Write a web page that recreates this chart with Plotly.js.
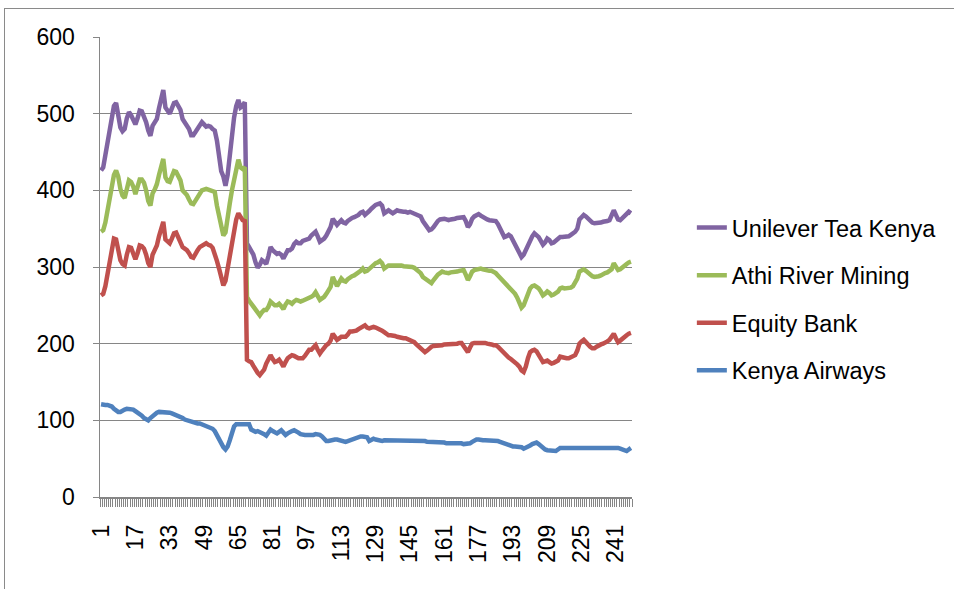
<!DOCTYPE html>
<html>
<head>
<meta charset="utf-8">
<script src="https://cdn.plot.ly/plotly-3.0.1.min.js"></script>
<style>
  html, body { margin: 0; padding: 0; background: #ffffff; }
  #chart { width: 954px; height: 589px; }
  #frame { position: absolute; left: 4px; top: 8px; width: 1000px; height: 700px; border: 1px solid #8a8a8a; pointer-events: none; }
</style>
</head>
<body>
<div id="chart"></div>
<div id="frame"></div>
<script>
const seriesNames = ["Unilever Tea Kenya", "Athi River Mining", "Equity Bank", "Kenya Airways"];
const seriesColors = ["#8064A2", "#9BBB59", "#C0504D", "#4F81BD"];

const unilever = [
  426, 430, 446, 463, 480, 496, 510, 514, 497, 482,
  477, 480, 494, 502, 498, 493, 486, 494, 504, 503,
  497, 489, 478, 471, 484, 488, 493, 507, 522, 531,
  508, 503, 500, 507, 514, 515, 510, 505, 493, 489,
  485, 480, 472, 472, 476, 480, 485, 489, 486, 483,
  484, 483, 480, 478, 465, 440, 425, 418, 406, 420,
  450, 474, 495, 510, 518, 508, 510, 515, 331, 326,
  321, 316, 306, 299, 303, 309, 307, 304, 314, 326,
  322, 320, 317, 318, 316, 311, 318, 322, 322, 324,
  330, 333, 331, 331, 334, 335, 336, 337, 341, 343,
  346, 340, 333, 335, 337, 341, 346, 352, 363, 358,
  355, 358, 361, 358, 357, 360, 363, 364, 365, 366,
  368, 371, 372, 368, 370, 373, 376, 379, 381, 382,
  383, 380, 370, 372, 374, 372, 370, 372, 374, 373,
  372, 372, 372, 371, 372, 371, 370, 369, 368, 366,
  360, 355, 352, 348, 349, 352, 357, 360, 362, 363,
  363, 362, 361, 362, 362, 363, 364, 364, 365, 365,
  360, 352, 356, 363, 366, 368, 369, 367, 365, 364,
  362, 361, 361, 361, 360, 356, 350, 345, 339, 340,
  342, 340, 335, 330, 325, 319, 313, 316, 322, 330,
  337, 340, 344, 342, 339, 334, 329, 332, 337, 335,
  331, 332, 334, 336, 339, 339, 339, 339, 340, 342,
  344, 346, 350, 362, 365, 368, 366, 363, 360, 358,
  357, 357, 357, 358, 359, 359, 360, 361, 366, 374,
  368, 362, 361, 364, 368, 369, 372, 370
];

const athi = [
  346, 348, 358, 375, 392, 405, 420, 426, 418, 402,
  393, 390, 402, 413, 411, 405, 395, 403, 414, 414,
  410, 400, 386, 380, 396, 401, 408, 420, 434, 441,
  417, 412, 411, 418, 425, 424, 418, 413, 400, 397,
  394, 388, 383, 382, 386, 391, 396, 400, 401, 402,
  401, 400, 400, 398, 380, 366, 352, 341, 345, 370,
  383, 400, 415, 430, 440, 430, 428, 430, 261, 256,
  252, 248, 244, 239, 237, 241, 244, 244, 248, 255,
  252, 250, 250, 252, 249, 245, 251, 255, 254, 252,
  255, 257, 256, 255, 256, 257, 258, 260, 261, 263,
  267, 262, 257, 259, 261, 265, 270, 274, 287, 280,
  275, 280, 285, 282, 281, 284, 287, 288, 289, 291,
  292, 295, 298, 294, 295, 298, 300, 302, 305, 306,
  308, 305, 298, 300, 302, 302, 302, 302, 303, 303,
  302, 301, 301, 300, 300, 300, 299, 297, 295, 292,
  287, 285, 283, 280, 279, 283, 287, 290, 292, 294,
  293, 292, 292, 293, 293, 294, 294, 295, 296, 296,
  290, 283, 288, 294, 296, 297, 298, 298, 297, 296,
  296, 295, 295, 294, 292, 289, 286, 282, 279, 277,
  275, 272, 268, 265, 260, 254, 247, 250, 258, 266,
  272, 275, 276, 274, 272, 268, 263, 265, 268, 266,
  263, 264, 266, 268, 272, 273, 272, 272, 272, 273,
  275, 279, 285, 294, 296, 297, 295, 292, 290, 288,
  287, 287, 288, 289, 291, 292, 293, 295, 297, 305,
  300, 296, 297, 300, 302, 304, 306, 307
];

const equity = [
  263, 265, 275, 292, 305, 322, 337, 336, 322, 309,
  304, 302, 316, 326, 325, 318, 310, 318, 328, 327,
  324, 316, 305, 300, 316, 322, 328, 340, 352, 359,
  336, 333, 331, 337, 344, 345, 338, 333, 326, 324,
  322, 318, 313, 312, 318, 322, 326, 328, 330, 331,
  329, 328, 325, 318, 308, 298, 287, 276, 282, 298,
  315, 333, 348, 362, 370, 365, 361, 360, 179, 177,
  176, 171, 166, 162, 159, 163, 166, 174, 180, 185,
  180, 176, 177, 179, 175, 170, 176, 181, 183, 185,
  184, 182, 181, 181, 181, 184, 188, 192, 192, 195,
  198, 192, 187, 191, 196, 198, 200, 204, 213, 208,
  205, 207, 209, 209, 209, 212, 216, 216, 216, 217,
  219, 221, 223, 224, 221, 220, 221, 222, 221, 220,
  219, 217, 215, 212, 211, 211, 211, 210, 209, 208,
  208, 207, 207, 206, 205, 204, 202, 199, 196, 193,
  190, 189, 191, 194, 196, 197, 197, 198, 198, 198,
  199, 199, 199, 199, 200, 200, 200, 201, 201, 197,
  192, 189, 195, 200, 201, 201, 202, 202, 201, 201,
  200, 200, 199, 198, 198, 196, 193, 189, 186, 184,
  182, 180, 178, 176, 173, 170, 165, 163, 170, 181,
  189, 191, 192, 190, 185, 180, 176, 177, 178, 176,
  174, 175, 176, 178, 183, 182, 181, 181, 181, 182,
  183, 185, 191, 200, 203, 205, 202, 198, 196, 194,
  194, 196, 198, 199, 200, 201, 203, 205, 208, 213,
  207, 202, 204, 207, 209, 211, 213, 214
];

const kenyaAirways = [
  121, 120, 120, 120, 119, 118, 115, 112, 111, 111,
  113, 114, 115, 115, 115, 114, 112, 110, 109, 106,
  103, 101, 100, 103, 106, 108, 110, 111, 111, 111,
  111, 110, 110, 109, 108, 106, 105, 104, 103, 101,
  100, 99, 98, 98, 97, 96, 96, 95, 94, 92,
  91, 90, 89, 86, 80, 75, 70, 65, 62, 66,
  74, 84, 92, 95, 95, 96, 96, 96, 96, 95,
  88, 86, 85, 86, 85, 84, 82, 80, 85, 88,
  86, 84, 83, 85, 87, 84, 81, 83, 85, 86,
  87, 86, 84, 82, 81, 81, 81, 81, 80, 81,
  82, 82, 81, 79, 76, 73, 73, 74, 75, 75,
  75, 74, 74, 73, 72, 73, 74, 76, 77, 78,
  78, 79, 79, 79, 78, 73, 75, 76, 75, 74,
  73, 73, 74, 74, 74, 74, 74, 74, 74, 74,
  74, 74, 74, 74, 74, 74, 74, 74, 74, 73,
  73, 73, 72, 72, 72, 71, 71, 71, 72, 72,
  71, 70, 70, 70, 70, 71, 70, 70, 70, 69,
  69, 69, 70, 72, 74, 75, 75, 74, 74, 74,
  74, 74, 74, 74, 74, 73, 72, 71, 70, 68,
  67, 66, 66, 66, 66, 66, 65, 63, 64, 65,
  67, 69, 70, 71, 69, 66, 63, 62, 61, 61,
  61, 60, 60, 62, 64, 64, 64, 64, 64, 64,
  64, 65, 65, 65, 65, 65, 65, 65, 65, 65,
  65, 64, 64, 64, 65, 65, 64, 64, 64, 64,
  64, 64, 63, 62, 61, 60, 62, 64
];

const allSeries = [unilever, athi, equity, kenyaAirways];
const categories = unilever.map((_, i) => i + 1);
const xTickValues = categories.filter(c => (c - 1) % 16 === 0);
const xTickLabels = xTickValues.map(String);
const yTickValues = [0, 100, 200, 300, 400, 500, 600];

const FONT = "'Liberation Sans', Arial, sans-serif";
const AXIS_GRAY = "#868686";

const traces = allSeries.map((vals, k) => ({
  type: "scatter",
  mode: "lines",
  name: seriesNames[k],
  legendgroup: "g" + k,
  x: categories,
  y: vals,
  line: { color: seriesColors[k], width: 4.5, shape: "linear" },
  hoverinfo: "x+y+name"
}));

const layout = {
  width: 954,
  height: 589,
  margin: { l: 100, r: 322, t: 37, b: 92, pad: 0 },
  paper_bgcolor: "#ffffff",
  plot_bgcolor: "#ffffff",
  font: { family: FONT, size: 23, color: "#000000" },
  showlegend: true,
  legend: {
    x: 1.1125, xanchor: "left",
    y: 0.633, yanchor: "top",
    traceorder: "grouped",
    tracegroupgap: 14,
    font: { family: FONT, size: 23.5, color: "#000000" },
    bgcolor: "rgba(0,0,0,0)",
    borderwidth: 0
  },
  xaxis: {
    type: "linear",
    range: [0.5, categories.length + 0.5],
    tickmode: "array",
    tickvals: xTickValues,
    ticktext: xTickLabels,
    tickangle: -90,
    ticks: "outside",
    ticklen: 8,
    tickcolor: "rgba(0,0,0,0)",
    ticklabelstandoff: 9,
    tickfont: { family: FONT, size: 23, color: "#000000" },
    showgrid: false,
    zeroline: false,
    showline: true,
    linecolor: AXIS_GRAY,
    linewidth: 1.5,
    minor: {
      tick0: 0.5,
      dtick: 1,
      ticks: "outside",
      ticklen: 8,
      tickcolor: AXIS_GRAY,
      tickwidth: 1,
      showgrid: false
    },
    fixedrange: true
  },
  yaxis: {
    range: [0, 600],
    tickmode: "array",
    tickvals: yTickValues,
    ticktext: yTickValues.map(String),
    ticks: "outside",
    ticklen: 6,
    tickcolor: AXIS_GRAY,
    ticklabelstandoff: 13,
    tickfont: { family: FONT, size: 23, color: "#000000" },
    showgrid: true,
    gridcolor: AXIS_GRAY,
    gridwidth: 1,
    zeroline: false,
    showline: true,
    linecolor: AXIS_GRAY,
    linewidth: 1.5,
    fixedrange: true
  }
};

Plotly.newPlot("chart", traces, layout, { displayModeBar: false, staticPlot: true });
</script>
</body>
</html>
